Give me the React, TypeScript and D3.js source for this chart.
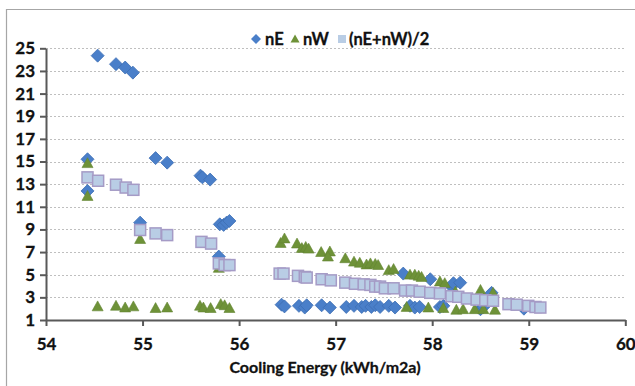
import * as d3 from "d3";
import { useEffect, useRef } from "react";

// [cooling energy, value]
const nE: [number, number][] = [
  [54.43, 15.2], [54.43, 12.4], [54.535, 24.35], [54.725, 23.6], [54.82, 23.3], [54.9, 22.85],
  [54.975, 9.6], [55.135, 15.3], [55.255, 14.9], [55.6, 13.75], [55.62, 13.6], [55.7, 13.4],
  [55.8, 9.45], [55.84, 9.4], [55.87, 9.6], [55.9, 9.75], [55.79, 6.6],
  [56.44, 2.35], [56.47, 2.2], [56.62, 2.25], [56.68, 2.1], [56.7, 2.3], [56.855, 2.3],
  [56.94, 2.1], [57.11, 2.15], [57.19, 2.25], [57.27, 2.15], [57.31, 2.25], [57.37, 2.15],
  [57.41, 2.3], [57.46, 2.15], [57.55, 2.25], [57.615, 2.1], [57.77, 2.25], [57.82, 2.1],
  [57.87, 2.15], [58.08, 2.15], [58.115, 2.25], [58.5, 1.95], [58.53, 2.15], [58.95, 2.0],
  [57.7, 5.1], [57.98, 4.6], [58.2, 3.95], [58.22, 4.25], [58.29, 4.3], [58.615, 3.4],
];

const nW: [number, number][] = [
  [54.43, 14.85], [54.43, 11.95], [54.535, 2.2], [54.725, 2.25], [54.82, 2.1], [54.905, 2.2],
  [54.975, 8.15], [55.135, 2.05], [55.255, 2.1], [55.595, 2.25], [55.63, 2.1], [55.705, 2.05],
  [55.81, 2.4], [55.85, 2.3], [55.9, 2.05], [55.79, 5.6],
  [56.43, 7.8], [56.47, 8.2], [56.6, 7.75], [56.65, 7.35], [56.69, 7.45], [56.72, 7.3],
  [56.85, 7.0], [56.94, 7.05], [56.92, 6.6], [57.1, 6.45], [57.19, 6.15], [57.25, 6.05],
  [57.32, 5.9], [57.36, 6.0], [57.41, 5.95], [57.44, 5.85], [57.55, 5.4], [57.6, 5.5],
  [57.77, 5.0], [57.82, 5.0], [57.86, 4.9], [57.89, 4.8], [58.08, 4.4], [58.13, 4.25],
  [58.24, 3.5], [58.5, 3.65], [58.63, 3.4],
  [57.735, 2.15], [57.96, 2.1], [58.115, 2.05], [58.25, 1.9], [58.32, 1.95], [58.44, 1.95],
  [58.53, 1.95], [58.65, 1.9],
];

const avg: [number, number][] = [
  [54.43, 13.6], [54.54, 13.3], [54.725, 12.95], [54.825, 12.7], [54.905, 12.5],
  [54.975, 8.95], [55.135, 8.65], [55.255, 8.5], [55.61, 7.9], [55.71, 7.75],
  [55.79, 6.0], [55.85, 5.85], [55.9, 5.85],
  [56.42, 5.1], [56.46, 5.1], [56.61, 4.9], [56.68, 4.8], [56.7, 4.75], [56.855, 4.6],
  [56.95, 4.5], [57.1, 4.3], [57.2, 4.2], [57.29, 4.15], [57.36, 4.1], [57.41, 3.95],
  [57.46, 3.95], [57.51, 3.8], [57.6, 3.8], [57.72, 3.6], [57.79, 3.6], [57.87, 3.5],
  [57.98, 3.4], [58.08, 3.35], [58.2, 3.1], [58.27, 3.05], [58.36, 2.9], [58.46, 2.8],
  [58.55, 2.75], [58.63, 2.7], [58.79, 2.4], [58.875, 2.35], [58.995, 2.25], [59.07, 2.15],
  [59.12, 2.1],
];

const yTicks = [1, 3, 5, 7, 9, 11, 13, 15, 17, 19, 21, 23, 25];
const xTicks = [54, 55, 56, 57, 58, 59, 60];
const legendLabels = ["nE", "nW", "(nE+nW)/2"];

const FONT = "Lato, 'Open Sans', sans-serif";

export default function App() {
  const ref = useRef<SVGSVGElement>(null);

  useEffect(() => {
    const svg = d3.select(ref.current);
    svg.selectAll("*").remove();

    const width = 635;
    const height = 386;

    const x = d3.scaleLinear().domain([54, 60]).range([46, 625.3]);
    const y = d3.scaleLinear().domain([1, 25]).range([320, 48.3]);

    svg.append("rect").attr("width", width).attr("height", height).attr("fill", "#fff");

    // outer frame
    svg.append("path")
      .attr("d", `M6.5,${height} V9.5 H${width}`)
      .attr("fill", "none")
      .attr("stroke", "#a6a6a6")
      .attr("stroke-width", 1.2);

    // grid
    svg.append("g")
      .selectAll("line")
      .data(yTicks.slice(1))
      .enter()
      .append("line")
      .attr("x1", x(54))
      .attr("x2", x(60))
      .attr("y1", d => Math.round(y(d)) + 0.5)
      .attr("y2", d => Math.round(y(d)) + 0.5)
      .attr("stroke", "#bfbfbf")
      .attr("stroke-width", 1)
      .attr("stroke-dasharray", "2,2");

    // axes
    const yAxis = d3.axisLeft(y).tickValues(yTicks).tickSize(6).tickSizeOuter(0).tickPadding(5);
    const gy = svg.append("g").attr("transform", `translate(${x(54)},0)`).call(yAxis);
    const xAxis = d3.axisBottom(x).tickValues(xTicks).tickFormat(d3.format("d")).tickSize(6).tickSizeOuter(0).tickPadding(12);
    const gx = svg.append("g").attr("transform", `translate(0,${y(1)})`).call(xAxis);

    [gy, gx].forEach(g => {
      g.select(".domain").attr("stroke", "#595959").attr("stroke-width", 2);
      g.selectAll(".tick line").attr("stroke", "#595959").attr("stroke-width", 2);
      g.selectAll(".tick text")
        .attr("fill", "#111")
        .attr("stroke", "#111")
        .attr("stroke-width", 0.3)
        .style("font-family", FONT)
        .style("font-weight", "bold")
        .style("font-size", "17px");
    });

    svg.append("text")
      .attr("x", 325)
      .attr("y", 373)
      .attr("text-anchor", "middle")
      .attr("fill", "#111")
      .attr("stroke", "#111")
      .attr("stroke-width", 0.3)
      .style("font-family", FONT)
      .style("font-weight", "bold")
      .style("font-size", "16px")
      .text("Cooling Energy (kWh/m2a)");

    const diamond = (s: number) => `M0,${-s} L${s},0 L0,${s} L${-s},0 Z`;
    const triangle = (s: number) => `M0,${-s} L${s},${s * 0.8} L${-s},${s * 0.8} Z`;

    const plot = svg.append("g");

    plot.selectAll(".e")
      .data(nE)
      .enter()
      .append("path")
      .attr("d", diamond(6.5))
      .attr("transform", d => `translate(${x(d[0])},${y(d[1])})`)
      .attr("fill", "#4a7fc9")
      .attr("stroke", "#3e6fb4")
      .attr("stroke-width", 0.8);

    plot.selectAll(".w")
      .data(nW)
      .enter()
      .append("path")
      .attr("d", triangle(5.5))
      .attr("transform", d => `translate(${x(d[0])},${y(d[1])})`)
      .attr("fill", "#6e9238")
      .attr("stroke", "#638532")
      .attr("stroke-width", 0.6);

    plot.selectAll(".a")
      .data(avg)
      .enter()
      .append("rect")
      .attr("x", d => x(d[0]) - 5.5)
      .attr("y", d => y(d[1]) - 5.5)
      .attr("width", 11)
      .attr("height", 11)
      .attr("fill", "#b9cde5")
      .attr("stroke", "#a59bc6")
      .attr("stroke-width", 1.5);

    // legend
    const lg = svg.append("g").attr("transform", "translate(0,39)");
    const items = [
      { sx: 256, tx: 265, shape: "d" },
      { sx: 295, tx: 303, shape: "t" },
      { sx: 342, tx: 349, shape: "s" },
    ];
    items.forEach((it, i) => {
      if (it.shape === "d") {
        lg.append("path").attr("d", diamond(5)).attr("transform", `translate(${it.sx},0)`).attr("fill", "#4a7fc9");
      } else if (it.shape === "t") {
        lg.append("path").attr("d", triangle(4.5)).attr("transform", `translate(${it.sx},0)`).attr("fill", "#6e9238");
      } else {
        lg.append("rect").attr("x", it.sx - 4).attr("y", -4).attr("width", 8).attr("height", 8).attr("fill", "#b9cde5");
      }
      lg.append("text")
        .attr("x", it.tx)
        .attr("y", 6)
        .attr("fill", "#111")
        .attr("stroke", "#111")
        .attr("stroke-width", 0.3)
        .style("font-family", FONT)
        .style("font-weight", "bold")
        .style("font-size", "16.5px")
        .text(legendLabels[i]);
    });
  }, []);

  return (
    <svg ref={ref} width={635} height={386} style={{ position: "absolute", left: 0, top: 0, display: "block" }} />
  );
}
